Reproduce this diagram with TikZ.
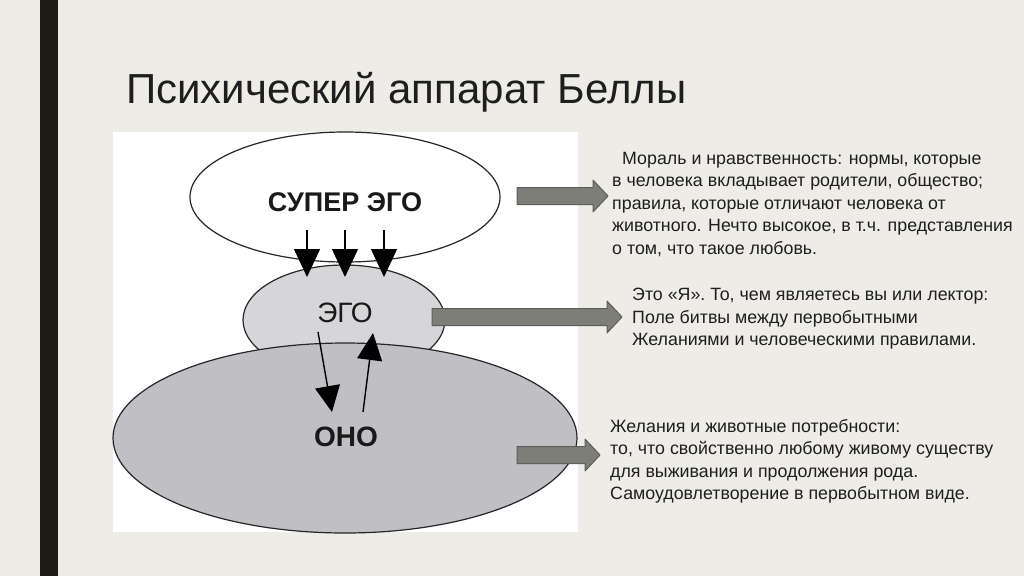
\documentclass[tikz,border=0pt]{standalone}
\usepackage{fontspec}
\setmainfont{Liberation Sans}
\usepackage{tikz}
\usetikzlibrary{arrows.meta,calc,positioning,shapes.geometric}
\definecolor{slidebg}{HTML}{EEECE7}
\definecolor{barcol}{HTML}{1E1D14}
\definecolor{textdark}{HTML}{1E1E1E}
\definecolor{egogrey}{HTML}{D6D6D9}
\definecolor{idgrey}{HTML}{BFBFC4}
\definecolor{arrowgrey}{HTML}{7E7E78}
\definecolor{arrowedge}{HTML}{5E5E59}
\newcommand\DrawBlockArrow[2]{% tail, tip
  \draw[blockarrow] ($(#1)+(0,-8.5)$) -- ($(#2)+(-15,-8.5)$) -- ($(#2)+(-15,-16)$)
    -- (#2) -- ($(#2)+(-15,16)$) -- ($(#2)+(-15,8.5)$) -- ($(#1)+(0,8.5)$) -- cycle;
}
\tikzset{%
  psyche/.style={ellipse,draw=black!85,line width=1.2pt,inner sep=0pt},
  layer/.style={inner sep=0pt,text=black!90},
  push/.style={line width=1.4pt,-{Triangle[length=28pt,width=26pt]}},
  blockarrow/.style={fill=arrowgrey,draw=arrowedge,line width=1pt,line join=round},
  note/.style={align=left,anchor=north west,inner sep=0pt,text=textdark,
    font=\fontsize{17.8}{22.5}\selectfont}%
}
\begin{document}
\begin{tikzpicture}[x=1pt,y=-1pt]
    \useasboundingbox (0,0) rectangle (1024,576);
    \fill[slidebg] (0,0) rectangle (1024,576);
    \fill[barcol] (40,0) rectangle (58,576); % side bar
    
    \node[anchor=base west,inner sep=0pt,text=textdark,
      font=\fontsize{42}{42}\selectfont] (title) at (126,103) {Психический аппарат Беллы};
    
    \fill[white] (113,132) rectangle (578,532); % picture panel
    
    % the three layers
    \node[psyche,fill=white,minimum width=310pt,minimum height=130pt] (super) at (345,197) {};
    \node[psyche,fill=egogrey,minimum width=202pt,minimum height=110pt] (ego) at (344,320) {};
    \node[psyche,fill=idgrey,minimum width=464pt,minimum height=190pt] (id) at (345,438) {};
    
    \node[layer,font=\bfseries\fontsize{27}{27}\selectfont] (superlbl) at (345,202) {СУПЕР ЭГО};
    \node[layer,font=\fontsize{28}{28}\selectfont] (egolbl) at (345,313) {ЭГО};
    \node[layer,font=\bfseries\fontsize{28}{28}\selectfont] (idlbl) at (346,437) {ОНО};
    
    % pressure of the super ego
    \foreach \x [count=\i] in {307,345,384} {
      \coordinate (top\i) at (\x,230);
      \coordinate (bot\i) at (\x,277);
      \draw[push] (top\i) -- (bot\i);
    }
    
    % ego <-> id
    \coordinate (down1) at (318,332);
    \coordinate (down2) at (332,412);
    \coordinate (up1) at (363,412);
    \coordinate (up2) at (373,333);
    \draw[push,-{Triangle[length=26pt,width=25pt]}] (down1) -- (down2);
    \draw[push,-{Triangle[length=27pt,width=25pt]}] (up1) -- (up2);
    
    % explanations
    \node[note] (supertxt) at (612,152) {\hspace*{10pt}Мораль и нравственность: нормы, которые\\
      в человека вкладывает родители, общество;\\
      правила, которые отличают человека от\\
      животного. Нечто высокое, в т.ч. представления\\
      о том, что такое любовь.};
    \node[note] (egotxt) at (632,288) {Это «Я». То, чем являетесь вы или лектор:\\
      Поле битвы между первобытными\\
      Желаниями и человеческими правилами.};
    \node[note] (idtxt) at (610,419) {Желания и животные потребности:\\
      то, что свойственно любому живому существу\\
      для выживания и продолжения рода.\\
      Самоудовлетворение в первобытном виде.};
    
    \coordinate (a1) at (517,196);
    \coordinate (b1) at (608,196);
    \coordinate (a2) at (432,317);
    \coordinate (b2) at (622,317);
    \coordinate (a3) at (517,455);
    \coordinate (b3) at (600,455);
    \DrawBlockArrow{a1}{b1}
    \DrawBlockArrow{a2}{b2}
    \DrawBlockArrow{a3}{b3}
    
\end{tikzpicture}
\end{document}
